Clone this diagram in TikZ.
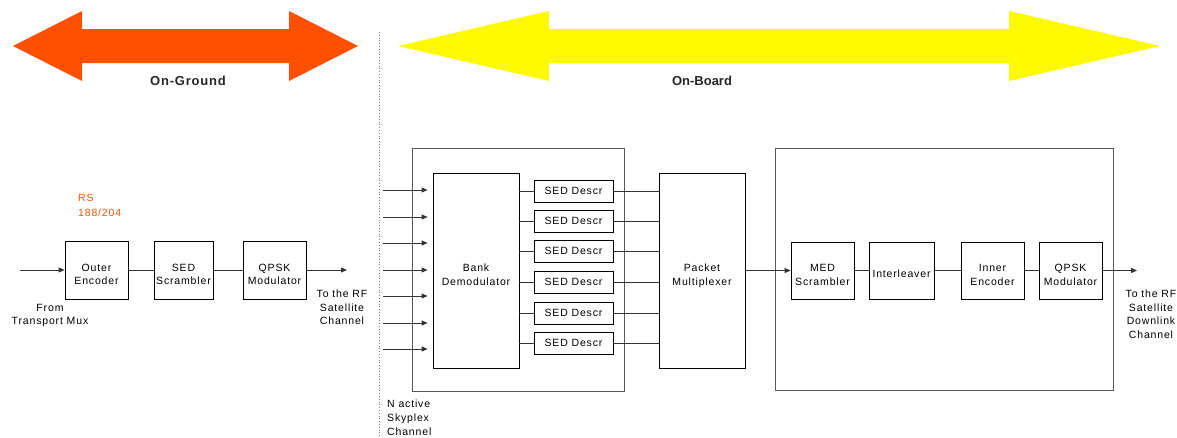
\documentclass[tikz,border=0pt]{standalone}
\usepackage{fontspec}
\setmainfont{Liberation Sans}
\usetikzlibrary{arrows.meta}
\definecolor{ground}{HTML}{FF5000}
\definecolor{board}{HTML}{FFFA00}
\begin{document}
\begin{tikzpicture}[x=1pt,y=-1pt,
  every node/.style={font=\fontsize{10.5}{13.5}\selectfont\addfontfeature{LetterSpace=8}},
  blk/.style={draw=black,line width=0.8pt,align=center,inner sep=0pt,minimum height=58pt,
    text height=29pt,text depth=0pt},
  oneblk/.style={blk,text height=13pt},
  descr/.style={draw=black,line width=0.8pt,inner sep=0pt,minimum width=79pt,minimum height=22pt},
  frame/.style={draw=black!65,line width=0.8pt,inner sep=0pt},
  wire/.style={draw=black!80,line width=0.8pt},
  arr/.style={wire,-{Triangle[length=6pt,width=5pt]}},
  lbl/.style={align=center,inner sep=0pt},
  biglbl/.style={inner sep=0pt,font=\fontsize{13}{15}\selectfont\bfseries,text=black!85}]
\useasboundingbox (0,0) rectangle (1177,437);
% big double arrows
\fill[ground] (13,46) -- (82,11) -- (82,29) -- (289,29) -- (289,11) -- (358,46)
  -- (289,81) -- (289,63) -- (82,63) -- (82,81) -- cycle;
\fill[board] (398,46) -- (549,11) -- (549,29) -- (1009,29) -- (1009,11) -- (1160,46)
  -- (1009,81) -- (1009,63) -- (549,63) -- (549,81) -- cycle;
\node[biglbl] (onground) at (188,81) {\addfontfeature{LetterSpace=6}On-Ground};
\node[biglbl] (onboard) at (702,81) {On-Board};
% separator
\coordinate (septop) at (379,32);
\coordinate (sepbot) at (379,437);
\draw[black!50,dotted,line width=0.8pt] (septop) -- (sepbot);
% on-ground chain
\node[blk,minimum width=63pt] (outer) at (96.5,270) {Outer\\Encoder};
\node[blk,minimum width=59pt] (sedscr) at (183.5,270) {SED\\Scrambler};
\node[blk,minimum width=63pt] (qpsk1) at (274.5,270) {QPSK\\Modulator};
\coordinate (gin) at (20,270);
\coordinate (gout) at (347,270);
\draw[arr] (gin) -- (outer.west);
\draw[wire] (outer) -- (sedscr);
\draw[wire] (sedscr) -- (qpsk1);
\draw[arr] (qpsk1.east) -- (gout);
\node[lbl,anchor=north west,align=left,text=ground,font=\fontsize{10.5}{14.5}\selectfont\addfontfeature{LetterSpace=8}] (rs) at (78,194) {RS\\188/204};
\node[lbl,anchor=north] (from) at (50,304) {From\\Transport Mux};
\node[lbl,anchor=north] (tog) at (342,290) {To the RF\\Satellite\\Channel};
% on-board first container
\node[frame,minimum width=212pt,minimum height=243pt] (box1) at (518,269.5) {};
\node[blk,minimum width=86pt,minimum height=195pt] (bank) at (476,270.5) {Bank\\Demodulator};
\node[blk,minimum width=86pt,minimum height=195pt] (pmux) at (702,270.5) {Packet\\Multiplexer};
\foreach \i/\y in {1/191,2/221,3/251,4/282,5/313,6/343}{
  \node[descr] (sed\i) at (573.5,\y) {SED Descr};
  \draw[wire] (bank.east |- sed\i.west) -- (sed\i.west);
  \draw[wire] (sed\i.east) -- (pmux.west |- sed\i.east);
}
\foreach \i/\y in {1/190,2/217,3/243,4/270,5/296,6/323,7/349}{
  \coordinate (in\i) at (383,\y);
  \draw[arr,shorten >=5pt] (in\i) -- (bank.west |- in\i);
}
\node[lbl,anchor=north west,align=left,font=\fontsize{10.5}{14}\selectfont\addfontfeature{LetterSpace=8}] (nact) at (387,400) {N active\\Skyplex\\Channel};
% on-board second container
\node[frame,minimum width=338pt,minimum height=242pt] (box2) at (944,269) {};
\node[blk,minimum width=63pt,minimum height=57pt] (med) at (822.5,270.5) {MED\\Scrambler};
\node[oneblk,minimum width=65pt,minimum height=57pt] (intl) at (901.5,270.5) {Interleaver};
\node[blk,minimum width=63pt,minimum height=57pt] (inner) at (992.5,270.5) {Inner\\Encoder};
\node[blk,minimum width=63pt,minimum height=57pt] (qpsk2) at (1070.5,270.5) {QPSK\\Modulator};
\coordinate (bout) at (1137,270.5);
\draw[arr] (pmux.east |- med.west) -- (med.west);
\draw[wire] (med) -- (intl);
\draw[wire] (intl) -- (inner);
\draw[wire] (inner) -- (qpsk2);
\draw[arr] (qpsk2.east) -- (bout);
\node[lbl,anchor=north] (tob) at (1151,290) {To the RF\\Satellite\\Downlink\\Channel};
\end{tikzpicture}
\end{document}
